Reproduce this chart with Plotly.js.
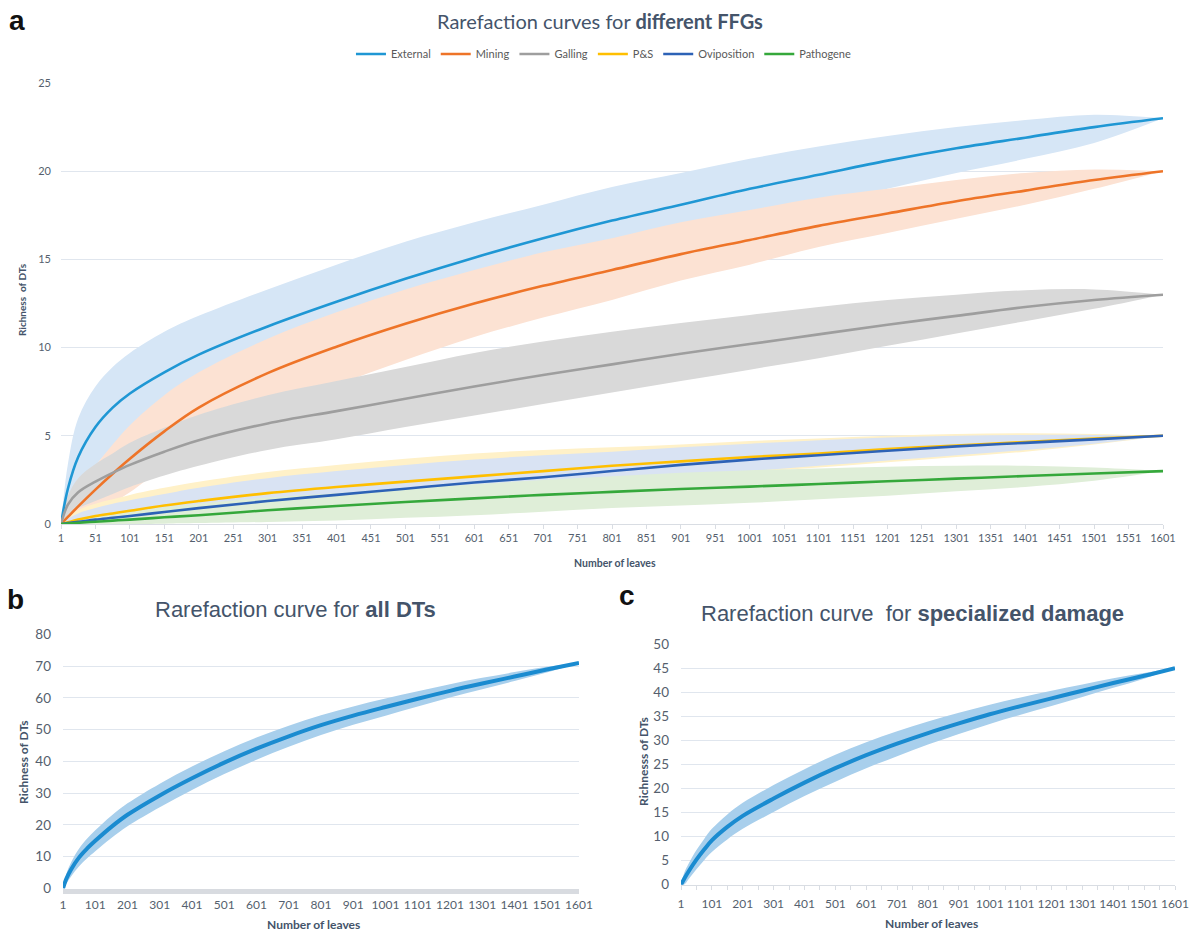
<!DOCTYPE html>
<html>
<head>
<meta charset="utf-8">
<script src="https://cdn.plot.ly/plotly-3.0.1.min.js"></script>
<style>html,body{margin:0;padding:0;background:#fff;}#chart{width:1195px;height:931px;}</style>
</head>
<body>
<div id="chart"></div>
<script>
// ---- data ----
var leaves = [1, 11, 26, 51, 76, 101, 151, 201, 301, 401, 501, 601, 701, 801, 901, 1001, 1101, 1201, 1301, 1401, 1501, 1601];

var seriesNames = ["External", "Mining", "Galling", "P&S", "Oviposition", "Pathogene"];

var externalMean  = [0, 2.0, 3.8, 5.5, 6.6, 7.4, 8.6, 9.6, 11.2, 12.6, 13.9, 15.1, 16.2, 17.2, 18.1, 19.0, 19.8, 20.6, 21.3, 21.9, 22.5, 23.0];
var externalUpper = [0, 3.4, 6.0, 7.8, 8.9, 9.7, 10.9, 11.8, 13.3, 14.7, 16.0, 17.1, 18.1, 19.1, 19.9, 20.7, 21.4, 22.0, 22.5, 22.9, 23.2, 23.0];
var externalLower = [0, 0.9, 2.0, 3.3, 4.4, 5.2, 6.4, 7.4, 9.0, 10.5, 11.8, 13.1, 14.3, 15.3, 16.3, 17.2, 18.1, 19.0, 19.9, 20.7, 21.6, 23.0];

var miningMean  = [0, 0.4, 1.0, 1.95, 2.85, 3.7, 5.25, 6.6, 8.55, 10.05, 11.35, 12.5, 13.5, 14.4, 15.3, 16.1, 16.9, 17.6, 18.3, 18.9, 19.5, 20.0];
var miningUpper = [0, 0.9, 2.0, 3.3, 4.5, 5.6, 7.3, 8.6, 10.5, 12.0, 13.3, 14.4, 15.4, 16.2, 17.1, 17.8, 18.5, 19.0, 19.5, 19.9, 20.1, 20.0];
var miningLower = [0, 0.1, 0.3, 0.7, 1.2, 1.8, 3.2, 4.4, 6.4, 7.9, 9.3, 10.6, 11.7, 12.7, 13.8, 14.7, 15.7, 16.5, 17.3, 18.1, 19.0, 20.0];

var gallingMean  = [0, 1.1, 1.8, 2.4, 2.9, 3.35, 4.1, 4.75, 5.7, 6.4, 7.1, 7.8, 8.45, 9.05, 9.65, 10.2, 10.75, 11.3, 11.8, 12.3, 12.7, 13.0];
var gallingUpper = [0, 1.6, 2.6, 3.4, 4.0, 4.6, 5.45, 6.2, 7.3, 8.1, 8.9, 9.7, 10.35, 10.9, 11.4, 11.85, 12.3, 12.7, 13.0, 13.25, 13.3, 13.0];
var gallingLower = [0, 0.5, 0.9, 1.3, 1.7, 2.1, 2.75, 3.3, 4.2, 4.8, 5.5, 6.15, 6.8, 7.45, 8.1, 8.75, 9.4, 10.1, 10.8, 11.5, 12.2, 13.0];

var psMean  = [0, 0.1, 0.25, 0.45, 0.6, 0.75, 1.05, 1.3, 1.75, 2.1, 2.4, 2.7, 3.0, 3.3, 3.55, 3.8, 4.0, 4.25, 4.45, 4.65, 4.85, 5.0];
var psUpper = [0, 0.4, 0.8, 1.15, 1.4, 1.65, 2.05, 2.4, 2.95, 3.35, 3.7, 4.0, 4.2, 4.35, 4.5, 4.7, 4.85, 5.0, 5.1, 5.15, 5.1, 5.0];
var psLower = [0, 0, 0.05, 0.1, 0.2, 0.3, 0.5, 0.7, 1.0, 1.3, 1.6, 1.9, 2.15, 2.4, 2.7, 2.95, 3.2, 3.5, 3.8, 4.1, 4.5, 5.0];

var oviMean  = [0, 0.05, 0.12, 0.25, 0.35, 0.45, 0.68, 0.9, 1.3, 1.65, 2.0, 2.35, 2.65, 3.0, 3.35, 3.65, 3.9, 4.15, 4.4, 4.6, 4.8, 5.0];
var oviUpper = [0, 0.3, 0.6, 0.9, 1.15, 1.35, 1.7, 2.05, 2.6, 3.0, 3.35, 3.65, 3.9, 4.1, 4.35, 4.55, 4.75, 4.9, 5.0, 5.05, 5.05, 5.0];
var oviLower = [0, 0, 0.02, 0.05, 0.1, 0.15, 0.25, 0.4, 0.7, 1.0, 1.3, 1.65, 2.0, 2.35, 2.7, 3.0, 3.3, 3.6, 3.9, 4.2, 4.55, 5.0];

var pathoMean  = [0, 0.03, 0.07, 0.13, 0.19, 0.25, 0.38, 0.5, 0.78, 1.02, 1.25, 1.45, 1.65, 1.82, 1.98, 2.12, 2.27, 2.42, 2.57, 2.72, 2.86, 3.0];
var pathoUpper = [0, 0.1, 0.25, 0.4, 0.55, 0.7, 0.95, 1.15, 1.5, 1.75, 2.0, 2.25, 2.5, 2.7, 2.9, 3.05, 3.15, 3.25, 3.3, 3.3, 3.2, 3.0];
var pathoLower = [0, 0, 0, 0, 0, 0, 0.02, 0.05, 0.12, 0.2, 0.35, 0.5, 0.7, 0.9, 1.05, 1.2, 1.4, 1.6, 1.85, 2.1, 2.45, 3.0];

var allMean  = [0, 3.0, 6.0, 9.8, 12.6, 15.0, 19.4, 23.2, 29.3, 34.7, 39.6, 44.0, 47.9, 51.4, 54.4, 57.1, 59.7, 62.2, 64.5, 66.7, 68.9, 71.0];
var allUpper = [0, 4.5, 8.2, 12.6, 15.7, 18.3, 22.9, 26.8, 33.0, 38.4, 43.2, 47.5, 51.2, 54.5, 57.3, 59.8, 62.1, 64.3, 66.3, 68.1, 69.8, 71.0];
var allLower = [0, 1.5, 3.8, 7.0, 9.5, 11.7, 15.9, 19.6, 25.6, 31.0, 36.0, 40.5, 44.6, 48.3, 51.5, 54.4, 57.3, 60.1, 62.7, 65.3, 68.0, 71.0];

var specMean  = [0, 1.2, 2.8, 5.2, 7.3, 9.2, 12.0, 14.3, 17.9, 21.2, 24.2, 26.9, 29.3, 31.5, 33.5, 35.4, 37.1, 38.7, 40.3, 41.9, 43.4, 45.0];
var specUpper = [0, 2.4, 4.4, 7.2, 9.5, 11.6, 14.6, 17.0, 20.7, 24.0, 27.0, 29.6, 31.9, 33.9, 35.7, 37.4, 38.9, 40.3, 41.6, 42.9, 44.0, 45.0];
var specLower = [0, 0.0, 1.2, 3.2, 5.1, 6.8, 9.4, 11.6, 15.1, 18.4, 21.4, 24.2, 26.7, 29.1, 31.3, 33.4, 35.3, 37.1, 39.0, 40.9, 42.8, 45.0];

var ticksA  = [1, 51, 101, 151, 201, 251, 301, 351, 401, 451, 501, 551, 601, 651, 701, 751, 801, 851, 901, 951, 1001, 1051, 1101, 1151, 1201, 1251, 1301, 1351, 1401, 1451, 1501, 1551, 1601];
var ticksBC = [1, 101, 201, 301, 401, 501, 601, 701, 801, 901, 1001, 1101, 1201, 1301, 1401, 1501, 1601];
var ticksYA = [0, 5, 10, 15, 20, 25];
var ticksYB = [0, 10, 20, 30, 40, 50, 60, 70, 80];
var ticksYC = [0, 5, 10, 15, 20, 25, 30, 35, 40, 45, 50];

// ---- styles ----
var lineColors = ["#1f97d4", "#ee7428", "#9e9e9e", "#ffbf00", "#2d62b6", "#35a83b"];
var bandColors = ["#d6e6f6", "#fce2d3", "#d9d9d9", "#fff1c8", "#d9e3f3", "#dfeed8"];
var means  = [externalMean, miningMean, gallingMean, psMean, oviMean, pathoMean];
var uppers = [externalUpper, miningUpper, gallingUpper, psUpper, oviUpper, pathoUpper];
var lowers = [externalLower, miningLower, gallingLower, psLower, oviLower, pathoLower];
var SM = 1;

var traces = [];
function band(lower, upper, color, xa, ya) {
  traces.push({x: leaves, y: lower, xaxis: xa, yaxis: ya, mode: 'lines', line: {width: 0, shape: 'spline', smoothing: SM}, showlegend: false, hoverinfo: 'skip'});
  traces.push({x: leaves, y: upper, xaxis: xa, yaxis: ya, mode: 'lines', fill: 'tonexty', fillcolor: color, line: {width: 0, shape: 'spline', smoothing: SM}, showlegend: false, hoverinfo: 'skip'});
}
for (var i = 0; i < 6; i++) band(lowers[i], uppers[i], bandColors[i], 'x', 'y');
for (var i = 0; i < 6; i++) {
  traces.push({x: leaves, y: means[i], xaxis: 'x', yaxis: 'y', mode: 'lines', name: seriesNames[i],
    line: {color: lineColors[i], width: 2.6, shape: 'spline', smoothing: SM}});
}
band(allLower, allUpper, '#a8cfec', 'x2', 'y2');
traces.push({x: leaves, y: allMean, xaxis: 'x2', yaxis: 'y2', mode: 'lines', showlegend: false, line: {color: '#1a8bd0', width: 4, shape: 'spline', smoothing: SM}});
band(specLower, specUpper, '#a8cfec', 'x3', 'y3');
traces.push({x: leaves, y: specMean, xaxis: 'x3', yaxis: 'y3', mode: 'lines', showlegend: false, line: {color: '#1a8bd0', width: 4, shape: 'spline', smoothing: SM}});

var W = 1195, H = 931;
function px(x) { return x / W; }
function py(y) { return 1 - y / H; }

var tickCol = '#555f6e';
var gridCol = '#e0e6ee';
var titleCol = '#44546a';

var layout = {
  width: W, height: H,
  margin: {l: 0, r: 0, t: 0, b: 0},
  paper_bgcolor: '#ffffff', plot_bgcolor: '#ffffff',
  showlegend: true,
  legend: {orientation: 'h', traceorder: 'normal', x: 0.505, xanchor: 'center', y: py(54), yanchor: 'middle',
    font: {family: 'Lato', size: 11, color: '#595959'}, itemwidth: 30, tracegroupgap: 0, bgcolor: 'rgba(0,0,0,0)'},
  xaxis: {domain: [px(61), px(1163)], range: [1, 1601], tickmode: 'array', tickvals: ticksA, ticktext: ticksA.map(String), tickangle: 0,
    showgrid: false, zeroline: false, showline: true, linecolor: '#d9dde3', linewidth: 1,
    ticks: 'outside', ticklen: 4, tickcolor: '#d9dde3', tickfont: {family: 'Lato', size: 11, color: tickCol}, anchor: 'y', fixedrange: true},
  yaxis: {domain: [py(524), py(83)], range: [0, 25], tickmode: 'array', tickvals: ticksYA, ticktext: ticksYA.map(String),
    showgrid: true, gridcolor: gridCol, gridwidth: 1, zeroline: false, showline: false, ticks: '', ticklabelstandoff: 9,
    tickfont: {family: 'Lato', size: 11, color: tickCol}, anchor: 'x', fixedrange: true},
  xaxis2: {domain: [px(63), px(579)], range: [1, 1601], tickmode: 'array', tickvals: ticksBC, ticktext: ticksBC.map(String), tickangle: 0,
    showgrid: false, zeroline: false, showline: true, linecolor: '#d8dbe0', linewidth: 5, ticks: '', ticklabelstandoff: 1,
    tickfont: {family: 'Lato', size: 12, color: tickCol}, anchor: 'y2', fixedrange: true},
  yaxis2: {domain: [py(888.5), py(634.3)], range: [0, 80], tickmode: 'array', tickvals: ticksYB, ticktext: ticksYB.map(String),
    showgrid: true, gridcolor: gridCol, gridwidth: 1, zeroline: false, showline: false, ticks: '', ticklabelstandoff: 11,
    tickfont: {family: 'Lato', size: 13.5, color: tickCol}, anchor: 'x2', fixedrange: true},
  xaxis3: {domain: [px(681), px(1175)], range: [1, 1601], tickmode: 'array', tickvals: ticksBC, ticktext: ticksBC.map(String), tickangle: 0,
    showgrid: false, zeroline: false, showline: true, linecolor: '#d9dde3', linewidth: 1,
    ticks: 'outside', ticklen: 4, tickcolor: '#d9dde3', ticklabelstandoff: 4,
    minor: {tickmode: 'array', tickvals: ticksA, ticks: 'outside', ticklen: 4, tickcolor: '#d9dde3', showgrid: false},
    tickfont: {family: 'Lato', size: 12, color: tickCol}, anchor: 'y3', fixedrange: true},
  yaxis3: {domain: [py(884.7), py(644)], range: [0, 50], tickmode: 'array', tickvals: ticksYC, ticktext: ticksYC.map(String),
    showgrid: true, gridcolor: gridCol, gridwidth: 1, zeroline: false, showline: false, ticks: '', ticklabelstandoff: 11,
    tickfont: {family: 'Lato', size: 13.5, color: tickCol}, anchor: 'x3', fixedrange: true},
  annotations: [
    {text: '<b>a</b>', x: px(17), y: py(21), xref: 'paper', yref: 'paper', showarrow: false, xanchor: 'center', yanchor: 'middle', font: {family: 'Liberation Sans', size: 28, color: '#111111'}},
    {text: 'Rarefaction curves for <b>different FFGs</b>', x: px(600), y: py(21), xref: 'paper', yref: 'paper', showarrow: false, xanchor: 'center', yanchor: 'middle', font: {family: 'Lato', size: 20, color: titleCol}},
    {text: '<b>Richness\u00a0 of DTs</b>', x: px(22), y: py(300), xref: 'paper', yref: 'paper', showarrow: false, textangle: -90, xanchor: 'center', yanchor: 'middle', font: {family: 'Lato', size: 10, color: titleCol}},
    {text: '<b>Number of leaves</b>', x: px(615), y: py(563), xref: 'paper', yref: 'paper', showarrow: false, xanchor: 'center', yanchor: 'middle', font: {family: 'Lato', size: 10.5, color: titleCol}},

    {text: '<b>b</b>', x: px(16), y: py(599), xref: 'paper', yref: 'paper', showarrow: false, xanchor: 'center', yanchor: 'middle', font: {family: 'Liberation Sans', size: 28, color: '#111111'}},
    {text: 'Rarefaction curve for <b>all DTs</b>', x: px(295), y: py(609), xref: 'paper', yref: 'paper', showarrow: false, xanchor: 'center', yanchor: 'middle', font: {family: 'Liberation Sans', size: 22, color: titleCol}},
    {text: '<b>Richness of DTs</b>', x: px(23), y: py(762), xref: 'paper', yref: 'paper', showarrow: false, textangle: -90, xanchor: 'center', yanchor: 'middle', font: {family: 'Lato', size: 12, color: titleCol}},
    {text: '<b>Number of leaves</b>', x: px(313), y: py(924), xref: 'paper', yref: 'paper', showarrow: false, xanchor: 'center', yanchor: 'middle', font: {family: 'Lato', size: 12, color: titleCol}},

    {text: '<b>c</b>', x: px(627), y: py(595), xref: 'paper', yref: 'paper', showarrow: false, xanchor: 'center', yanchor: 'middle', font: {family: 'Liberation Sans', size: 28, color: '#111111'}},
    {text: 'Rarefaction curve\u00a0 for <b>specialized damage</b>', x: px(912), y: py(613), xref: 'paper', yref: 'paper', showarrow: false, xanchor: 'center', yanchor: 'middle', font: {family: 'Liberation Sans', size: 22, color: titleCol}},
    {text: '<b>Richnesss of DTs</b>', x: px(643), y: py(762), xref: 'paper', yref: 'paper', showarrow: false, textangle: -90, xanchor: 'center', yanchor: 'middle', font: {family: 'Lato', size: 12, color: titleCol}},
    {text: '<b>Number of leaves</b>', x: px(932), y: py(923), xref: 'paper', yref: 'paper', showarrow: false, xanchor: 'center', yanchor: 'middle', font: {family: 'Lato', size: 12, color: titleCol}}
  ]
};

Plotly.newPlot('chart', traces, layout, {staticPlot: true, displayModeBar: false});
</script>
</body>
</html>
